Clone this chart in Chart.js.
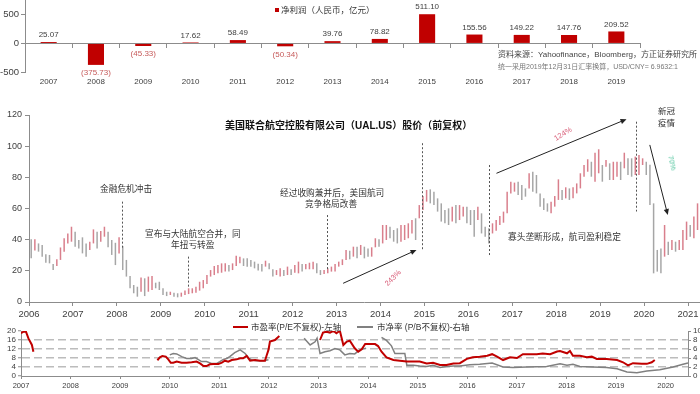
<!DOCTYPE html>
<html><head><meta charset="utf-8">
<script src="https://cdn.jsdelivr.net/npm/chart.js@4/dist/chart.umd.min.js"></script>
<style>
html,body{margin:0;padding:0;background:#fff;}
#wrap{position:relative;width:700px;height:394px;overflow:hidden;font-family:'Liberation Sans','Noto Sans CJK SC',sans-serif;}
canvas{position:absolute;left:0;}
.t{position:absolute;white-space:nowrap;color:#333;line-height:1;}
.sq{display:inline-block;width:4px;height:4px;background:#c00000;margin-right:2px;vertical-align:1px;}
.ln{position:absolute;height:2px;}
</style></head><body>
<div id="wrap">
<canvas id="c1" width="700" height="92" style="top:0;width:700px;height:92px"></canvas>
<canvas id="c2" width="700" height="220" style="top:105px;width:700px;height:220px"></canvas>
<canvas id="c3" width="700" height="76" style="top:318px;width:700px;height:76px"></canvas>

<div class="t" style="left:275px;top:6px;font-size:8.5px"><i class="sq"></i>净利润（人民币，亿元）</div>
<div class="t" style="left:498px;top:51px;font-size:8px;color:#444">资料来源：Yahoofinance，Bloomberg，方正证券研究所</div>
<div class="t" style="left:498px;top:63px;font-size:7px;color:#777">统一采用2019年12月31日汇率换算，USD/CNY= 6.9632:1</div>

<div class="t" style="left:225px;top:121px;font-size:10px;font-weight:bold;color:#111">美国联合航空控股有限公司（UAL.US）股价（前复权）</div>
<div class="t" style="left:100px;top:185px;font-size:8.7px">金融危机冲击</div>
<div class="t" style="left:145px;top:230px;font-size:8.7px">宣布与大陆航空合并，同</div>
<div class="t" style="left:171px;top:241px;font-size:8.7px">年扭亏转盈</div>
<div class="t" style="left:280px;top:189px;font-size:8.7px">经过收购兼并后，美国航司</div>
<div class="t" style="left:305px;top:200px;font-size:8.7px">竞争格局改善</div>
<div class="t" style="left:508px;top:233px;font-size:8.7px">寡头垄断形成，航司盈利稳定</div>
<div class="t" style="left:658px;top:107px;font-size:8.5px">新冠</div>
<div class="t" style="left:658px;top:119px;font-size:8.5px">疫情</div>
<div class="t" style="left:393px;top:278px;font-size:7.5px;color:#d9607a;transform:translate(-50%,-50%) rotate(-45deg)">243%</div>
<div class="t" style="left:563px;top:134px;font-size:7.5px;color:#d9607a;transform:translate(-50%,-50%) rotate(-32deg)">124%</div>
<div class="t" style="left:672px;top:163px;font-size:7.5px;color:#4fc49c;transform:translate(-50%,-50%) rotate(78deg)">70%</div>

<div class="ln" style="left:233px;top:326px;width:15px;background:#c00000"></div>
<div class="t" style="left:251px;top:323px;font-size:8.5px">市盈率(P/E不复权)-左轴</div>
<div class="ln" style="left:357px;top:326px;width:16px;background:#808080"></div>
<div class="t" style="left:377px;top:323px;font-size:8.5px">市净率 (P/B不复权)-右轴</div>
</div>
<script>
// ---------- data ----------
const profitYears = ['2007','2008','2009','2010','2011','2012','2013','2014','2015','2016','2017','2018','2019'];
const netProfit = [25.07,-375.73,-45.33,17.62,58.49,-50.34,39.76,78.82,511.10,155.56,149.22,147.76,209.52];
const profitTicks = [-500,0,500];

const priceStart = 2006.05; // first monthly bar
const priceLow = [
28,33,32.3,29,25.2,24.8,20.5,23.1,27,32.3,37.6,38.7,
35.5,34.4,31.2,29.1,33.4,37.6,34.4,38.7,41.9,35.1,30.2,23.7,
31.2,20.5,16.3,8.8,5.6,3.4,6.6,3.8,6.6,7.7,8.8,7.7,
4.5,3.8,4.5,3.4,3,3.4,4.5,5.1,5.6,6,7.3,8.8,
11.6,16.3,17.3,18.4,18.8,19.5,19.5,20.5,23.1,24.8,23.1,22.7,
22.7,21.6,20.2,19.5,22.7,21,16.3,17.3,16.3,16.7,17.3,17.3,
18.8,18.4,19.5,21,21,21,18.4,17.3,18,18.4,19.5,19.5,
22.7,23.7,27,27.4,29.1,28,30.2,28,29.1,29.1,35.1,35.5,
37.6,39.8,40.9,38.7,37.6,38.7,39.8,40.9,44,39.8,53.7,59,
64.4,63.3,62.2,58,51.6,50.5,49.4,51.6,50.5,52.6,54.8,50.5,
49.4,41.9,52.6,44,41.9,37.6,44,45.8,49.4,50.9,56.9,69.7,
70.8,68.7,65.5,67.6,72.9,70.8,69.7,61.2,59,58,56.9,61.2,
65.5,65.5,66.5,65.5,66.5,69.7,72.9,80.4,83.6,80.4,77.2,82.6,
77.2,86.8,78.3,78.3,80.4,78.3,85.8,81.5,80.4,81.5,81.5,87.9,
81.5,62.2,18.4,19.5,18.4,29.1,30.2,33.4,32.3,33.4,33.4,39.8,
41.9,40.9,46.2];
const priceHigh = [
40.2,40.2,37.6,36.6,30.6,30.2,24.4,27.4,35,40.9,44,48.3,
45.1,39.8,41.5,37.6,38.7,46.6,45.1,45.6,48.3,45.1,39.8,38,
41.5,35.9,27,16.7,10.9,9.8,15.8,15.2,16.3,16.7,12.4,13,
8.8,6.6,6.6,6,5.6,6,7.3,8.8,8.8,9.8,13,14.1,
17.3,20.5,23.1,23.7,24.8,24.8,23.7,24.8,29.7,29.1,28,28,
27,25.9,24.5,24.4,26.5,24.8,21,20.5,21.6,20.5,22.7,21,
23.7,25.9,24.4,24.4,25.2,25.9,24.8,20.5,20.5,21.6,22.7,24.4,
25.9,27.4,33.4,32.9,35.5,35.5,36.6,35.5,34.4,35.1,40.9,40.2,
49.4,49.4,48.3,46.2,47.3,49.4,49.4,50.5,52.6,53.7,62.2,68,
71.9,72.3,70.8,66.5,63.3,59,60.1,61.2,62.2,62.2,61.2,61.2,
59,59,61.2,56.9,48.3,47.3,50.5,52.6,55.2,58,70.8,77.2,
76.6,77.2,75.1,72.9,82.6,83.6,81.5,69.7,66.5,63.3,64.4,68,
78.7,71.9,73.6,72.9,73.6,76.1,82.6,87.9,91.6,90,95.8,98,
87.9,91.1,89,90,90,90,95.8,92.2,92.2,93.3,94.3,92.2,
90,88,63.3,33.4,34.4,49.4,38.7,39.8,38.7,39.8,46.2,51.6,
49.4,54.8,63.3];
const priceTicks = [0,20,40,60,80,100,120];
const priceYears = [2006,2007,2008,2009,2010,2011,2012,2013,2014,2015,2016,2017,2018,2019,2020,2021];

// annotation positions in data space [year, fromPrice, toPrice] / [year1, price1, year2, price2]
const eventLines = [[2008.11,34.5,64.4],[2009.62,8.8,29.1],[2012.79,20.5,55.8],[2014.95,33.4,101.9],[2016.46,29.1,87.9],[2019.82,58,115.7]];
const trendArrows = [[2013.15,12.0,2014.82,33.4],[2016.64,82.6,2019.6,117.3],[2020.13,100.8,2020.54,55.8]];

const peSeries = [
[2007.00,19.0],[2007.05,19.7],[2007.10,19.7],[2007.15,16.7],[2007.22,13.8],[2007.25,10.8],
[2008.50,null],
[2009.75,7.0],[2009.80,8.3],[2009.85,8.9],[2009.92,8.6],[2009.97,7.4],
[2010.02,5.9],[2010.07,5.9],[2010.14,6.4],[2010.24,5.9],[2010.34,5.9],[2010.44,6.1],[2010.54,6.4],[2010.61,5.6],[2010.68,4.4],[2010.74,4.4],[2010.81,5.2],[2010.88,5.3],[2010.98,5.3],
[2011.05,5.9],[2011.11,6.8],[2011.18,6.4],[2011.25,7.1],[2011.35,7.4],[2011.42,7.9],[2011.48,7.9],[2011.55,8.9],[2011.62,6.8],[2011.72,7.1],[2011.82,6.8],[2011.92,6.8],[2011.95,8.9],[2011.99,11.6],
[2012.02,15.3],[2012.12,16.0],[2012.21,17.8],
[2012.60,null],
[2013.03,16.0],[2013.09,19.3],[2013.16,19.7],[2013.23,19.3],[2013.30,20.1],[2013.36,19.0],[2013.43,20.1],[2013.50,13.8],[2013.57,15.3],[2013.63,15.7],[2013.73,12.3],[2013.80,10.8],[2013.87,11.9],[2013.94,14.2],
[2014.04,14.2],[2014.14,14.2],[2014.20,13.3],[2014.27,10.8],[2014.37,8.3],[2014.51,7.1],[2014.64,6.8],[2014.78,6.4],[2014.91,6.4],
[2015.04,6.4],[2015.18,5.6],[2015.31,5.9],[2015.45,4.9],[2015.58,4.9],[2015.72,5.6],[2015.85,5.7],[2015.99,7.6],
[2016.11,8.3],[2016.25,8.6],[2016.40,9.0],[2016.50,9.7],[2016.60,8.6],[2016.72,7.1],[2016.86,8.3],
[2017.00,8.0],[2017.12,9.7],[2017.26,9.7],[2017.40,9.7],[2017.52,10.0],[2017.67,9.7],[2017.81,10.9],[2017.87,11.1],
[2018.01,10.1],[2018.07,11.1],[2018.13,9.0],[2018.27,9.0],[2018.41,8.3],[2018.51,8.6],[2018.61,7.6],[2018.81,7.6],
[2019.02,7.1],[2019.14,6.1],[2019.24,4.7],[2019.34,5.7],[2019.52,5.4],[2019.62,5.4],[2019.72,6.1],[2019.78,7.1]];
const pbSeries = [
[2010.00,4.7],[2010.07,5.0],[2010.14,4.9],[2010.24,4.3],[2010.34,3.9],[2010.44,3.9],[2010.51,4.1],[2010.57,3.7],[2010.64,3.2],[2010.74,3.2],[2010.84,2.8],[2010.95,2.8],
[2011.01,3.2],[2011.08,3.7],[2011.15,3.9],[2011.21,4.3],[2011.31,5.2],[2011.42,5.8],[2011.52,5.0],[2011.58,4.1],[2011.65,3.6],[2011.75,3.4],[2011.89,3.4],[2011.99,3.6],
[2012.40,null],
[2012.71,8.4],[2012.83,6.9],[2012.93,7.6],[2012.97,8.4],[2013.03,5.0],[2013.13,5.4],[2013.23,5.6],[2013.33,6.1],[2013.43,5.8],[2013.53,4.7],[2013.63,5.0],[2013.73,4.9],[2013.83,5.8],[2013.96,6.2],
[2014.10,null],
[2014.27,8.6],[2014.37,7.9],[2014.47,6.7],[2014.54,5.0],[2014.64,5.0],[2014.74,5.0],[2014.78,2.4],[2014.91,2.4],
[2015.04,2.2],[2015.18,2.1],[2015.31,2.4],[2015.45,1.9],[2015.58,2.1],[2015.72,2.2],[2015.85,2.2],
[2016.05,2.5],[2016.25,2.6],[2016.50,2.9],[2016.72,2.0],[2016.92,1.9],[2017.20,2.0],[2017.60,2.1],[2017.87,2.7],
[2018.01,2.4],[2018.13,2.6],[2018.27,2.1],[2018.53,2.0],[2018.81,1.9],[2019.02,1.6],[2019.22,0.9],[2019.42,0.7],[2019.62,1.1],[2019.88,1.4],
[2020.15,2.0],[2020.35,2.6],[2020.45,2.9]];
const peTicks = [0,4,8,12,16,20];
const pbTicks = [0,2,4,6,8,10];
const ratioYears = [2007,2008,2009,2010,2011,2012,2013,2014,2015,2016,2017,2018,2019,2020];

// ---------- charts ----------
Chart.defaults.font.family = "'Liberation Sans','Noto Sans CJK SC',sans-serif";
Chart.defaults.color = '#404040';
Chart.defaults.animation = false;
const AX = '#8c8c8c';
const setTicks = arr => s => { s.ticks = arr.map(v => ({value: v})); };

const barLabels = {
  id: 'barLabels',
  afterDatasetsDraw(chart) {
    const ctx = chart.ctx, meta = chart.getDatasetMeta(0);
    ctx.save();
    ctx.font = "8px 'Liberation Sans',sans-serif";
    ctx.textAlign = 'center';
    meta.data.forEach((el, i) => {
      const v = netProfit[i];
      if (v >= 0) { ctx.fillStyle = '#404040'; ctx.textBaseline = 'bottom'; ctx.fillText(v.toFixed(2), el.x, el.y - 3); }
      else { ctx.fillStyle = '#c65a5a'; ctx.textBaseline = 'top'; ctx.fillText('(' + Math.abs(v).toFixed(2) + ')', el.x, el.y + 4); }
    });
    ctx.restore();
  }
};

new Chart(document.getElementById('c1'), {
  type: 'bar',
  data: { labels: profitYears, datasets: [{ data: netProfit, backgroundColor: '#c00000', barPercentage: 0.34, categoryPercentage: 1, xAxisID: 'x' }] },
  options: {
    responsive: false,
    layout: { padding: { right: 60, top: 0, left: 0, bottom: 0 } },
    plugins: { legend: { display: false }, tooltip: { enabled: false } },
    scales: {
      x: { type: 'category', position: { y: 0 }, offset: true,
           grid: { display: true, offset: true, drawOnChartArea: false, drawTicks: true, tickLength: 4, color: AX },
           ticks: { display: false }, border: { display: true, color: AX } },
      x2: { type: 'category', axis: 'x', position: 'bottom', offset: true,
            grid: { display: false, drawTicks: false }, border: { display: false },
            ticks: { font: { size: 8 }, color: '#404040', padding: 5, maxRotation: 0, autoSkip: false },
            afterFit: s => { s.height = 20; s.paddingLeft = 0; s.paddingRight = 0; } },
      y: { min: -500, max: 760, afterBuildTicks: setTicks(profitTicks),
           grid: { drawOnChartArea: false, tickLength: 4, color: AX }, border: { color: AX },
           ticks: { font: { size: 9.5 }, color: '#404040', padding: 2, autoSkip: false },
           afterFit: s => { s.width = 25; s.paddingTop = 0; s.paddingBottom = 0; } }
    }
  },
  plugins: [barLabels]
});

// price chart
const UP = 'rgba(210,105,120,0.85)', DOWN = 'rgba(150,150,150,0.85)';
const candles = priceLow.map((lo, i) => ({ x: priceStart + i / 12, y: [lo, priceHigh[i]] }));
const candleColors = priceLow.map((lo, i) => (i > 0 && lo + priceHigh[i] > priceLow[i - 1] + priceHigh[i - 1]) ? UP : DOWN);

const annoPlugin = {
  id: 'anno',
  afterDatasetsDraw(chart) {
    const { ctx, scales: { x, y } } = chart;
    ctx.save();
    ctx.strokeStyle = '#555'; ctx.lineWidth = 1; ctx.setLineDash([2, 2]);
    eventLines.forEach(([yr, a, b]) => {
      const px = Math.round(x.getPixelForValue(yr)) + 0.5;
      ctx.beginPath(); ctx.moveTo(px, y.getPixelForValue(b)); ctx.lineTo(px, y.getPixelForValue(a)); ctx.stroke();
    });
    ctx.setLineDash([]);
    ctx.strokeStyle = '#222'; ctx.fillStyle = '#222';
    trendArrows.forEach(([x1, y1, x2, y2]) => {
      const ax = x.getPixelForValue(x1), ay = y.getPixelForValue(y1), bx = x.getPixelForValue(x2), by = y.getPixelForValue(y2);
      const ang = Math.atan2(by - ay, bx - ax), L = 6, W = 2.6;
      ctx.beginPath(); ctx.moveTo(ax, ay); ctx.lineTo(bx - Math.cos(ang) * L * 0.8, by - Math.sin(ang) * L * 0.8); ctx.stroke();
      ctx.beginPath(); ctx.moveTo(bx, by);
      ctx.lineTo(bx - Math.cos(ang) * L + Math.sin(ang) * W, by - Math.sin(ang) * L - Math.cos(ang) * W);
      ctx.lineTo(bx - Math.cos(ang) * L - Math.sin(ang) * W, by - Math.sin(ang) * L + Math.cos(ang) * W);
      ctx.closePath(); ctx.fill();
    });
    ctx.restore();
  }
};

new Chart(document.getElementById('c2'), {
  type: 'bar',
  data: { datasets: [{ data: candles, backgroundColor: candleColors, barThickness: 1.5, inflateAmount: 0, grouped: false, borderWidth: 0 }] },
  options: {
    responsive: false,
    layout: { padding: { top: 10, right: 1, left: 0, bottom: 0 } },
    plugins: { legend: { display: false }, tooltip: { enabled: false } },
    scales: {
      x: { type: 'linear', min: 2006, max: 2021.25, offset: false, afterBuildTicks: setTicks(priceYears),
           grid: { offset: false, drawOnChartArea: false, tickLength: 4, color: AX }, border: { color: AX },
           ticks: { font: { size: 9.5 }, color: '#404040', padding: 3, maxRotation: 0, autoSkip: false, callback: v => String(v) },
           afterFit: s => { s.height = 23; s.paddingLeft = 0; s.paddingRight = 0; } },
      y: { type: 'linear', min: 0, max: 120, afterBuildTicks: setTicks(priceTicks),
           grid: { drawOnChartArea: false, tickLength: 4, color: AX }, border: { color: AX },
           ticks: { font: { size: 9 }, color: '#404040', padding: 3, autoSkip: false },
           afterFit: s => { s.width = 29; s.paddingTop = 0; s.paddingBottom = 0; } }
    }
  },
  plugins: [annoPlugin]
});

// ratio chart
const toXY = arr => arr.map(([x, v]) => ({ x, y: v }));
new Chart(document.getElementById('c3'), {
  type: 'line',
  data: { datasets: [
    { data: toXY(peSeries), borderColor: '#c00000', borderWidth: 2, pointRadius: 0, yAxisID: 'y', spanGaps: false, tension: 0 },
    { data: toXY(pbSeries), borderColor: '#808080', borderWidth: 1.5, pointRadius: 0, yAxisID: 'y1', spanGaps: false, tension: 0 }
  ] },
  options: {
    responsive: false,
    layout: { padding: { top: 13, right: 0, left: 0, bottom: 0 } },
    plugins: { legend: { display: false }, tooltip: { enabled: false } },
    scales: {
      x: { type: 'linear', min: 2007, max: 2020.45, afterBuildTicks: setTicks(ratioYears),
           grid: { drawOnChartArea: false, tickLength: 3, color: AX }, border: { color: AX },
           ticks: { font: { size: 7.5 }, color: '#404040', padding: 2, maxRotation: 0, autoSkip: false, callback: v => String(v) },
           afterFit: s => { s.height = 18; s.paddingLeft = 0; s.paddingRight = 0; } },
      y: { position: 'left', min: 0, max: 20, afterBuildTicks: setTicks(peTicks),
           grid: { color: c => (c.tick && c.tick.value > 0 && c.tick.value < 20) ? '#bcbcbc' : 'rgba(0,0,0,0)', lineWidth: 1.5, tickColor: AX, tickWidth: 1, tickLength: 3 },
           border: { color: AX, dash: [8, 4] },
           ticks: { font: { size: 8 }, color: '#404040', padding: 2, autoSkip: false },
           afterFit: s => { s.width = 21; s.paddingTop = 0; s.paddingBottom = 0; } },
      y1: { position: 'right', min: 0, max: 10, afterBuildTicks: setTicks(pbTicks),
            grid: { drawOnChartArea: false, tickLength: 3, color: AX }, border: { color: AX },
            ticks: { font: { size: 8 }, color: '#404040', padding: 2, autoSkip: false },
            afterFit: s => { s.width = 12; s.paddingTop = 0; s.paddingBottom = 0; } }
    }
  }
});
</script>
</body></html>
